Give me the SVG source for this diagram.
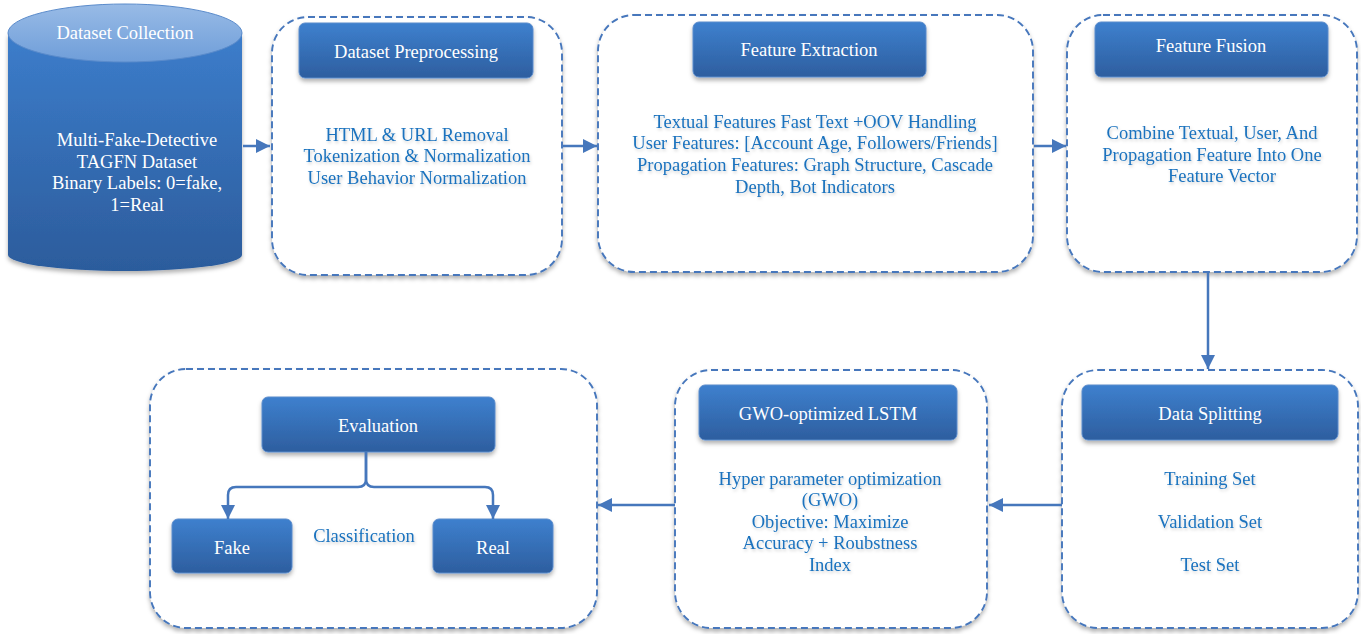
<svg xmlns="http://www.w3.org/2000/svg" width="1361" height="634" viewBox="0 0 1361 634">
<defs>
<linearGradient id="hdr" x1="0" y1="0" x2="0" y2="1">
<stop offset="0" stop-color="#3E80CE"/>
<stop offset="1" stop-color="#2D5E9F"/>
</linearGradient>
<linearGradient id="cylBody" x1="0" y1="0" x2="0" y2="1">
<stop offset="0" stop-color="#3C7DCB"/>
<stop offset="1" stop-color="#2C5C9C"/>
</linearGradient>
<linearGradient id="cylTop" x1="0" y1="0" x2="0" y2="1">
<stop offset="0" stop-color="#98BBE6"/>
<stop offset="1" stop-color="#6F9ED9"/>
</linearGradient>
<filter id="sh" x="-10%" y="-20%" width="120%" height="150%">
<feDropShadow dx="0" dy="3" stdDeviation="2" flood-color="#000" flood-opacity="0.3"/>
</filter>
<filter id="tsh" x="-5%" y="-20%" width="110%" height="160%">
<feDropShadow dx="1" dy="2" stdDeviation="1.5" flood-color="#000" flood-opacity="0.18"/>
</filter>
<marker id="ah" viewBox="0 0 14 14" refX="14" refY="7" markerWidth="14" markerHeight="14" markerUnits="userSpaceOnUse" orient="auto">
<path d="M0,0 L14,7 L0,14 Z" fill="#4677BC"/>
</marker>
</defs>
<style>
.grp{fill:#fff;stroke:#4677BC;stroke-width:1.9;stroke-dasharray:7 4;filter:url(#sh)}
.hdr{fill:url(#hdr);stroke:#5A8BCB;stroke-width:1;filter:url(#sh)}
.ht{font-family:"Liberation Serif",serif;font-size:18.5px;fill:#fff;text-anchor:middle}
.bt{font-family:"Liberation Serif",serif;font-size:18.5px;fill:#1A72BE;text-anchor:middle;filter:url(#tsh)}
.cn{fill:none;stroke:#4677BC;stroke-width:2.5}
</style>

<g id="dataset-collection">
<path d="M8,33 V255 A117,16 0 0 0 242,255 V33 Z" fill="url(#cylBody)" filter="url(#sh)"/>
<ellipse cx="125" cy="33" rx="117" ry="29" fill="url(#cylTop)" stroke="#5A8BCB" stroke-width="1"/>
<text class="ht" x="125" y="39">Dataset Collection</text>
<text class="ht" x="137" y="146">Multi-Fake-Detective</text>
<text class="ht" x="137" y="168">TAGFN Dataset</text>
<text class="ht" x="137" y="189">Binary Labels: 0=fake,</text>
<text class="ht" x="137" y="211">1=Real</text>
</g>

<g id="dataset-preprocessing">
<rect class="grp" x="272" y="17" width="290" height="258" rx="36"/>
<rect class="hdr" x="299" y="23" width="234" height="55" rx="6"/>
<text class="ht" x="416" y="58">Dataset Preprocessing</text>
<text class="bt" x="417" y="141">HTML &amp; URL Removal</text>
<text class="bt" x="417" y="162">Tokenization &amp; Normalization</text>
<text class="bt" x="417" y="184">User Behavior Normalization</text>
</g>

<g id="feature-extraction">
<rect class="grp" x="598" y="15" width="435" height="257" rx="36"/>
<rect class="hdr" x="693" y="22" width="233" height="55" rx="6"/>
<text class="ht" x="809" y="56">Feature Extraction</text>
<text class="bt" x="815" y="128">Textual Features Fast Text +OOV Handling</text>
<text class="bt" x="815" y="149">User Features: [Account Age, Followers/Friends]</text>
<text class="bt" x="815" y="171">Propagation Features: Graph Structure, Cascade</text>
<text class="bt" x="815" y="193">Depth, Bot Indicators</text>
</g>

<g id="feature-fusion">
<rect class="grp" x="1067" y="15" width="290" height="257" rx="36"/>
<rect class="hdr" x="1095" y="22" width="233" height="55" rx="6"/>
<text class="ht" x="1211" y="52">Feature Fusion</text>
<text class="bt" x="1212" y="139">Combine Textual, User, And</text>
<text class="bt" x="1212" y="161">Propagation Feature Into One</text>
<text class="bt" x="1222" y="182">Feature Vector</text>
</g>

<g id="data-splitting">
<rect class="grp" x="1062" y="370" width="296" height="258" rx="36"/>
<rect class="hdr" x="1082" y="385" width="256" height="55" rx="6"/>
<text class="ht" x="1210" y="420">Data Splitting</text>
<text class="bt" x="1210" y="485">Training Set</text>
<text class="bt" x="1210" y="528">Validation Set</text>
<text class="bt" x="1210" y="571">Test Set</text>
</g>

<g id="gwo-lstm">
<rect class="grp" x="675" y="370" width="312" height="258" rx="36"/>
<rect class="hdr" x="699" y="385" width="258" height="55" rx="6"/>
<text class="ht" x="828" y="420">GWO-optimized LSTM</text>
<text class="bt" x="830" y="485">Hyper parameter optimization</text>
<text class="bt" x="830" y="506">(GWO)</text>
<text class="bt" x="830" y="528">Objective: Maximize</text>
<text class="bt" x="830" y="549">Accuracy + Roubstness</text>
<text class="bt" x="830" y="571">Index</text>
</g>

<g id="evaluation-group">
<rect class="grp" x="150" y="369" width="447" height="259" rx="36"/>
<text class="bt" x="364" y="542">Classification</text>
</g>
<g id="evaluation">
<rect class="hdr" x="262" y="397" width="233" height="55" rx="6"/>
<text class="ht" x="378" y="432">Evaluation</text>
</g>
<g id="fake">
<rect class="hdr" x="172" y="519" width="120" height="54" rx="6"/>
<text class="ht" x="232" y="554">Fake</text>
</g>
<g id="real">
<rect class="hdr" x="433" y="519" width="120" height="54" rx="6"/>
<text class="ht" x="493" y="554">Real</text>
</g>

<g id="connectors">
<line class="cn" x1="243" y1="146" x2="270" y2="146" marker-end="url(#ah)"/>
<line class="cn" x1="563" y1="146" x2="597" y2="146" marker-end="url(#ah)"/>
<line class="cn" x1="1034" y1="146" x2="1066" y2="146" marker-end="url(#ah)"/>
<line class="cn" x1="1208" y1="273" x2="1208" y2="369" marker-end="url(#ah)"/>
<line class="cn" x1="1062" y1="505" x2="989" y2="505" marker-end="url(#ah)"/>
<line class="cn" x1="675" y1="505" x2="598" y2="505" marker-end="url(#ah)"/>
<path class="cn" d="M366,452 V479 Q366,487 358,487 H236 Q228,487 228,495 V519" marker-end="url(#ah)"/>
<path class="cn" d="M366,452 V479 Q366,487 374,487 H485 Q493,487 493,495 V519" marker-end="url(#ah)"/>
</g>
</svg>
